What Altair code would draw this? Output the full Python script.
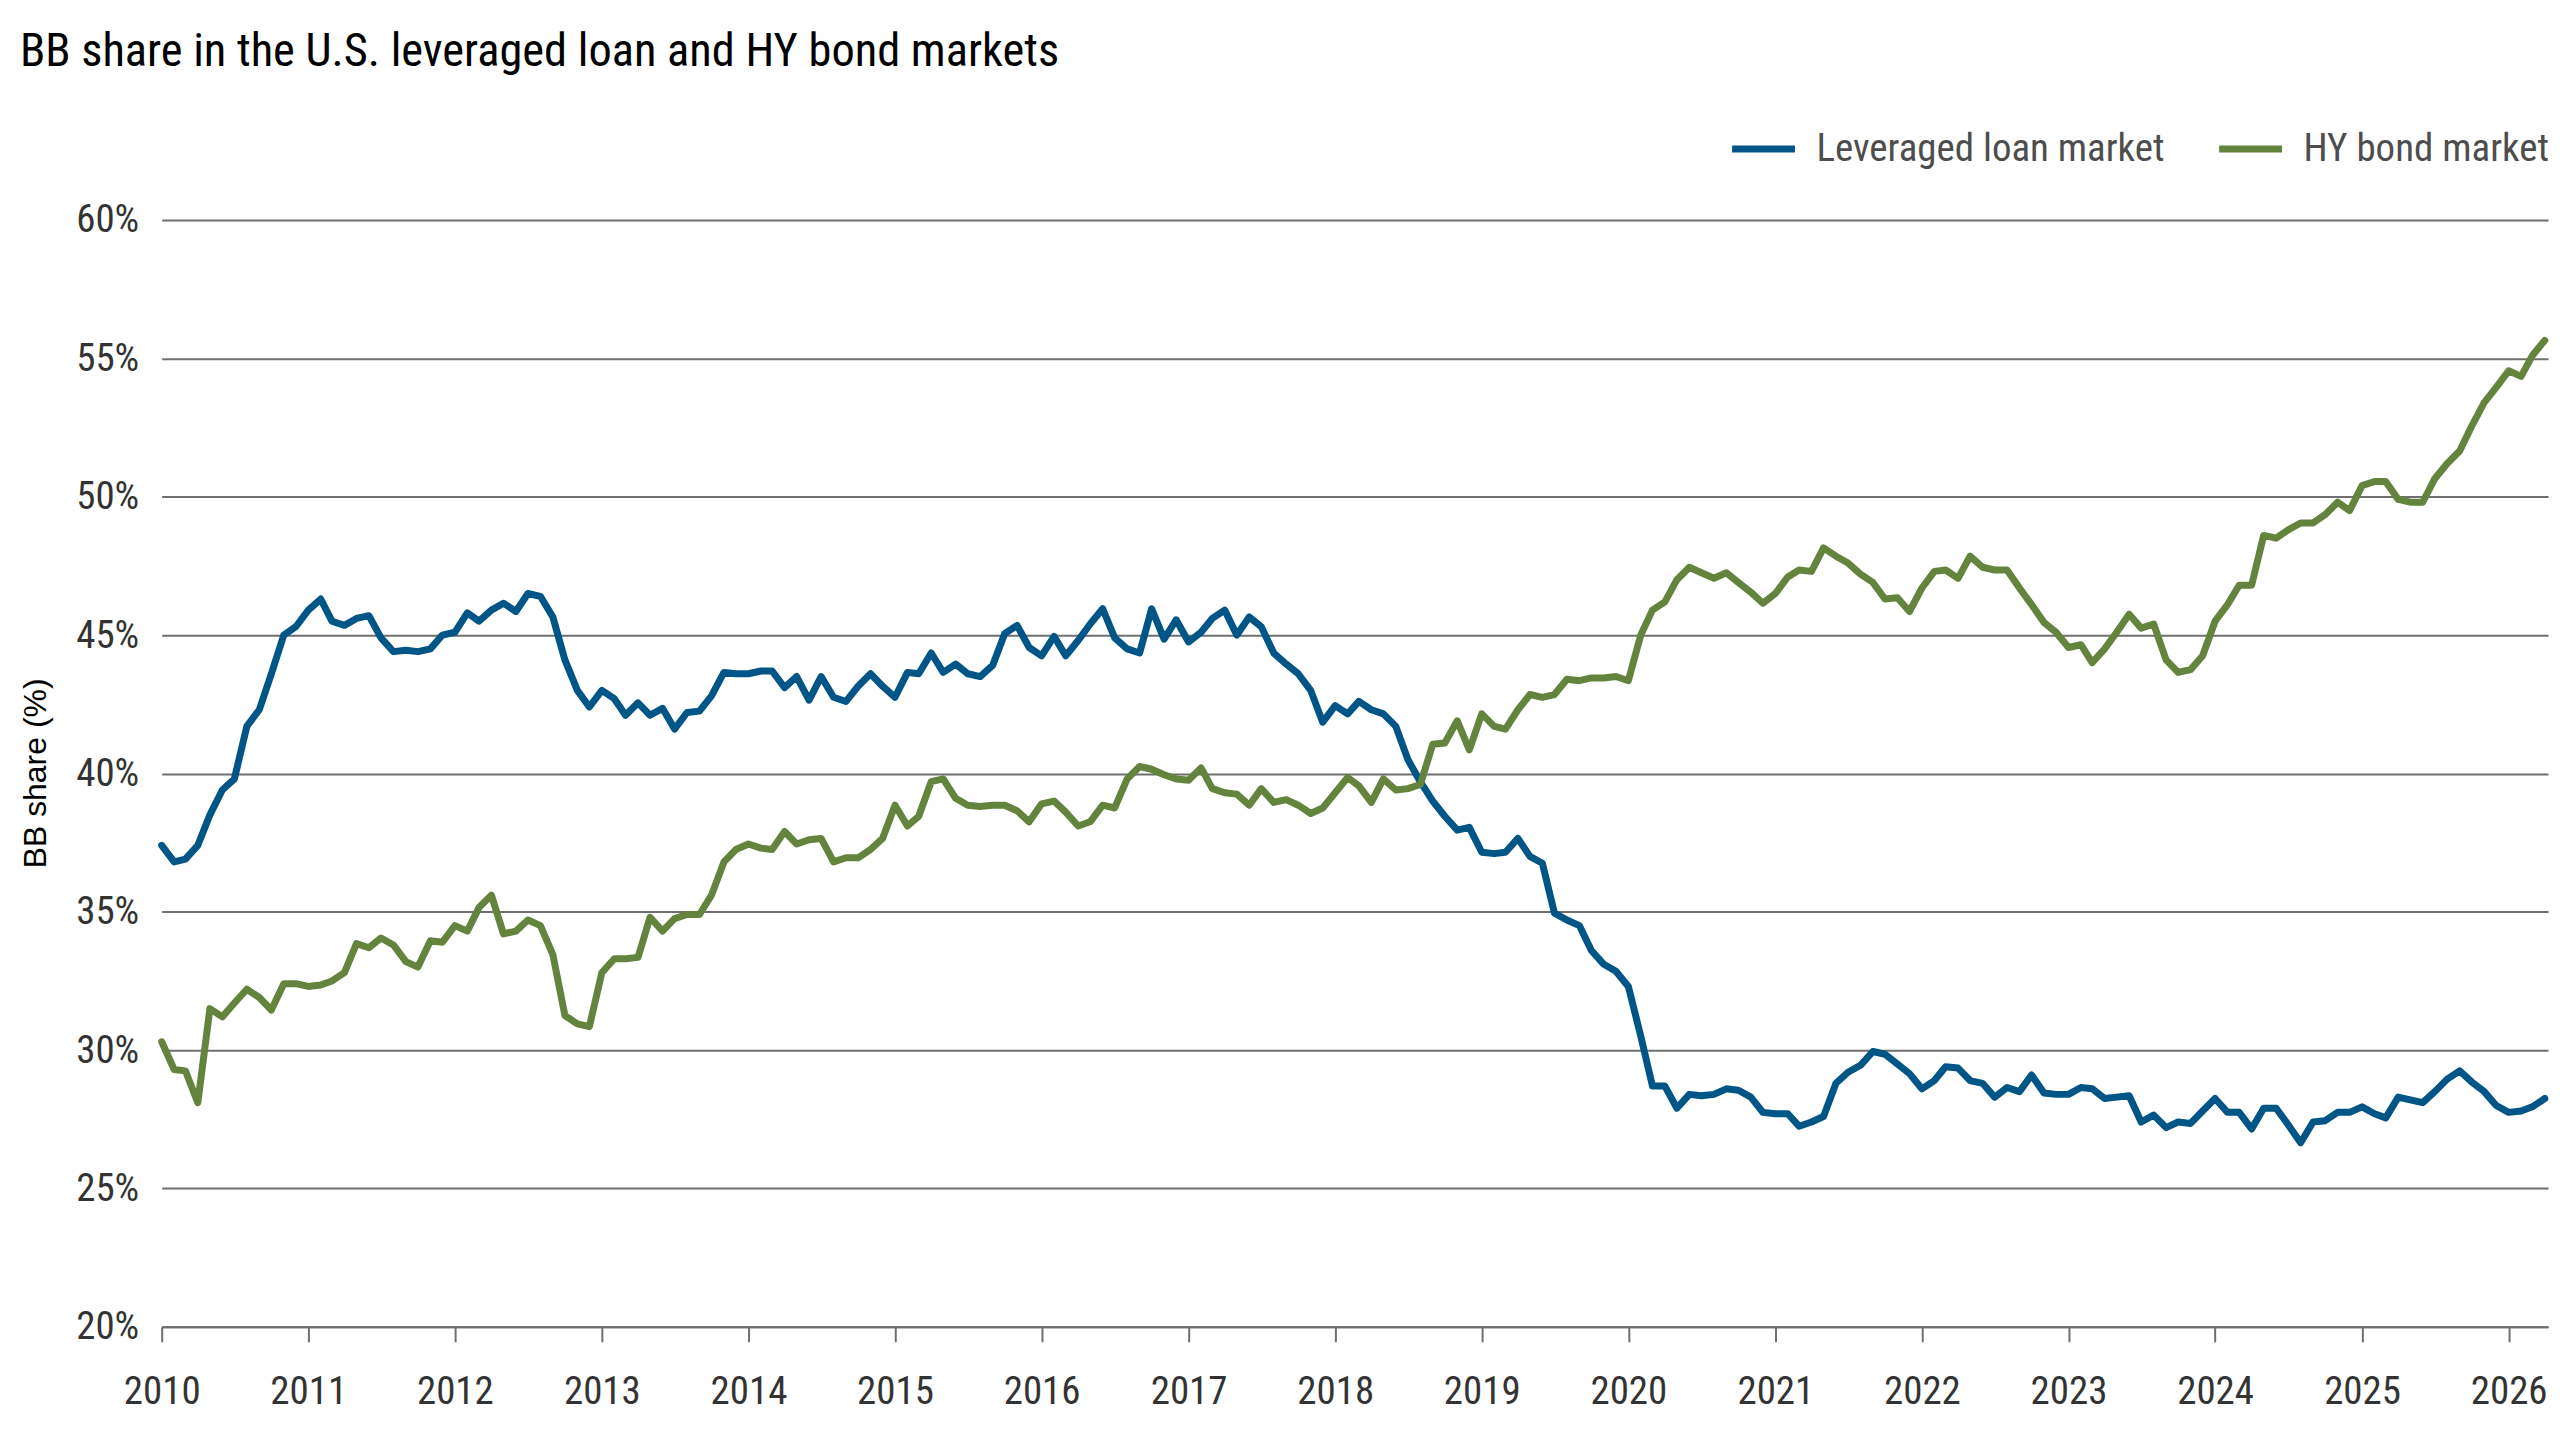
import altair as alt
import pandas as pd

title_text = "BB share in the U.S. leveraged loan and HY bond markets"
y_title = "BB share (%)"
series_names = ["Leveraged loan market", "HY bond market"]
series_colors = ["#005587", "#64843e"]
start_month = "2010-01-01"

# monthly BB share (%), Jan 2010 .. Apr 2026
loan = [
    37.4, 36.8, 36.9, 37.4, 38.5, 39.4, 39.8, 41.7, 42.3, 43.6, 45.0, 45.3,
    45.9, 46.3, 45.5, 45.35, 45.6, 45.7, 44.9, 44.4, 44.45, 44.4, 44.5, 45.0,
    45.1, 45.8, 45.5, 45.9, 46.15, 45.85, 46.5, 46.4, 45.65, 44.1, 43.0, 42.4,
    43.0, 42.7, 42.1, 42.55, 42.1, 42.35, 41.6, 42.2, 42.25, 42.8, 43.65, 43.6,
    43.6, 43.7, 43.7, 43.1, 43.5, 42.65, 43.5, 42.75, 42.6, 43.15, 43.6, 43.15,
    42.75, 43.65, 43.6, 44.35, 43.65, 43.95, 43.6, 43.5, 43.9, 45.05, 45.35, 44.55,
    44.25, 44.95, 44.25, 44.8, 45.4, 45.95, 44.9, 44.5, 44.35, 45.95, 44.85, 45.55,
    44.75, 45.1, 45.6, 45.9, 45.0, 45.65, 45.3, 44.35, 43.95, 43.6, 43.0, 41.85,
    42.45, 42.15, 42.6, 42.3, 42.15, 41.7, 40.5, 39.7, 39.0, 38.45, 37.95, 38.05,
    37.15, 37.1, 37.15, 37.65, 37.0, 36.75, 34.95, 34.7, 34.5, 33.6, 33.1, 32.85,
    32.3, 30.5, 28.7, 28.7, 27.9, 28.4, 28.35, 28.4, 28.6, 28.55, 28.3, 27.75,
    27.7, 27.7, 27.25, 27.4, 27.6, 28.8, 29.2, 29.45, 29.95, 29.85, 29.5, 29.15,
    28.6, 28.9, 29.4, 29.35, 28.9, 28.8, 28.3, 28.65, 28.5, 29.1, 28.45, 28.4,
    28.4, 28.65, 28.6, 28.25, 28.3, 28.35, 27.4, 27.65, 27.2, 27.4, 27.35, 27.8,
    28.25, 27.75, 27.75, 27.15, 27.9, 27.9, 27.3, 26.65, 27.4, 27.45, 27.75, 27.75,
    27.95, 27.7, 27.55, 28.3, 28.2, 28.1, 28.5, 28.95, 29.25, 28.85, 28.5, 28.0,
    27.75, 27.8, 27.95, 28.25,
]

hy = [
    30.3, 29.3, 29.25, 28.1, 31.5, 31.2, 31.7, 32.2, 31.9, 31.45, 32.4, 32.4,
    32.3, 32.35, 32.5, 32.8, 33.85, 33.7, 34.05, 33.8, 33.2, 33.0, 33.95, 33.9,
    34.5, 34.3, 35.15, 35.6, 34.2, 34.3, 34.7, 34.5, 33.45, 31.25, 30.95, 30.85,
    32.8, 33.3, 33.3, 33.35, 34.8, 34.3, 34.75, 34.9, 34.9, 35.6, 36.8, 37.25,
    37.45, 37.3, 37.25, 37.9, 37.45, 37.6, 37.65, 36.8, 36.95, 36.95, 37.25, 37.65,
    38.85, 38.1, 38.45, 39.7, 39.8, 39.1, 38.85, 38.8, 38.85, 38.85, 38.65, 38.25,
    38.9, 39.0, 38.6, 38.1, 38.25, 38.85, 38.75, 39.8, 40.25, 40.15, 39.95, 39.8,
    39.75, 40.2, 39.45, 39.3, 39.25, 38.85, 39.45, 38.95, 39.05, 38.85, 38.55, 38.75,
    39.3, 39.85, 39.55, 38.95, 39.8, 39.4, 39.45, 39.6, 41.05, 41.1, 41.9, 40.85,
    42.15, 41.7, 41.6, 42.3, 42.85, 42.75, 42.85, 43.4, 43.35, 43.45, 43.45, 43.5,
    43.35, 45.0, 45.9, 46.2, 47.0, 47.45, 47.25, 47.05, 47.25, 46.9, 46.55, 46.15,
    46.5, 47.1, 47.35, 47.3, 48.15, 47.85, 47.6, 47.2, 46.9, 46.3, 46.35, 45.85,
    46.7, 47.3, 47.35, 47.05, 47.85, 47.45, 47.35, 47.35, 46.7, 46.1, 45.45, 45.1,
    44.55, 44.65, 44.0, 44.5, 45.1, 45.75, 45.25, 45.4, 44.1, 43.65, 43.75, 44.25,
    45.5, 46.1, 46.8, 46.8, 48.6, 48.5, 48.8, 49.05, 49.05, 49.35, 49.8, 49.5,
    50.4, 50.55, 50.55, 49.9, 49.8, 49.8, 50.65, 51.2, 51.65, 52.55, 53.4, 53.95,
    54.55, 54.35, 55.1, 55.65,
]

y_ticks = [20, 25, 30, 35, 40, 45, 50, 55, 60]
x_years = list(range(2010, 2027))

months = list(pd.date_range(start_month, periods=len(loan), freq="MS").strftime("%Y-%m-%d"))
df = pd.DataFrame({
    "date": months + months,
    "share": loan + hy,
    "series": [series_names[0]] * len(loan) + [series_names[1]] * len(hy),
})

NARROW = "Liberation Sans Narrow, Roboto Condensed, DejaVu Sans Condensed, Arial Narrow, sans-serif"
GRID = "#6f6f6f"

x_enc = alt.X(
    "date:T",
    scale=alt.Scale(
        type="utc",
        domain=[alt.DateTime(year=2010, month=1, date=1, utc=True),
                alt.DateTime(year=2026, month=4, date=9, utc=True)],
    ),
    axis=alt.Axis(
        title=None,
        values=[alt.DateTime(year=y, month=1, date=1, utc=True) for y in x_years],
        labelExpr="utcFormat(datum.value, '%Y')",
        grid=False,
        domain=True,
        ticks=True,
        tickSize=15,
        labelPadding=31,
        labelFontSize=39,
        labelAlign="center",
        labelBaseline="top",
    ),
)

y_enc = alt.Y(
    "share:Q",
    scale=alt.Scale(domain=[20, 60], nice=False, zero=False),
    axis=alt.Axis(
        values=y_ticks,
        labelExpr="datum.value + '%'",
        title=y_title,
        titleFont="Liberation Sans, Arial, sans-serif",
        titleFontSize=32,
        titleFontWeight="normal",
        titleColor="#000000",
        titleX=-126,
        titleY=554,
        titleBaseline="middle",
        titleAlign="center",
        titleAngle=270,
        domain=False,
        ticks=False,
        grid=True,
        labelPadding=23,
        labelFontSize=39,
    ),
)

color_enc = alt.Color(
    "series:N",
    scale=alt.Scale(domain=series_names, range=series_colors),
    legend=alt.Legend(
        title=None,
        orient="none",
        legendX=1570,
        legendY=-106,
        direction="horizontal",
        symbolType="stroke",
        symbolSize=3969,
        symbolStrokeWidth=7,
        labelFont=NARROW,
        labelFontSize=39,
        labelColor="#4d4d4d",
        labelOffset=18,
        labelLimit=0,
        columnPadding=40,
        padding=0,
    ),
)

chart = (
    alt.Chart(df)
    .mark_line(strokeWidth=7, strokeCap="round", strokeJoin="round")
    .encode(x=x_enc, y=y_enc, color=color_enc)
    .properties(
        width=2391,
        height=1109,
        padding={"left": 154, "top": 211, "right": 4, "bottom": 100},
        autosize=alt.AutoSizeParams(type="none"),
        title=alt.TitleParams(
            text=title_text,
            anchor="start",
            frame="group",
            font=NARROW,
            fontSize=46.5,
            fontWeight="normal",
            color="#000000",
            dx=-142,
            offset=2,
            baseline="alphabetic",
        ),
    )
    .configure_view(stroke=None)
    .configure_axis(
        labelFont=NARROW,
        labelColor="#333333",
        gridColor=GRID,
        gridWidth=2,
        domainColor=GRID,
        domainWidth=2,
        tickColor=GRID,
        tickWidth=2,
    )
)

chart.save("out.html", embed_options={"renderer": "svg", "actions": False})
